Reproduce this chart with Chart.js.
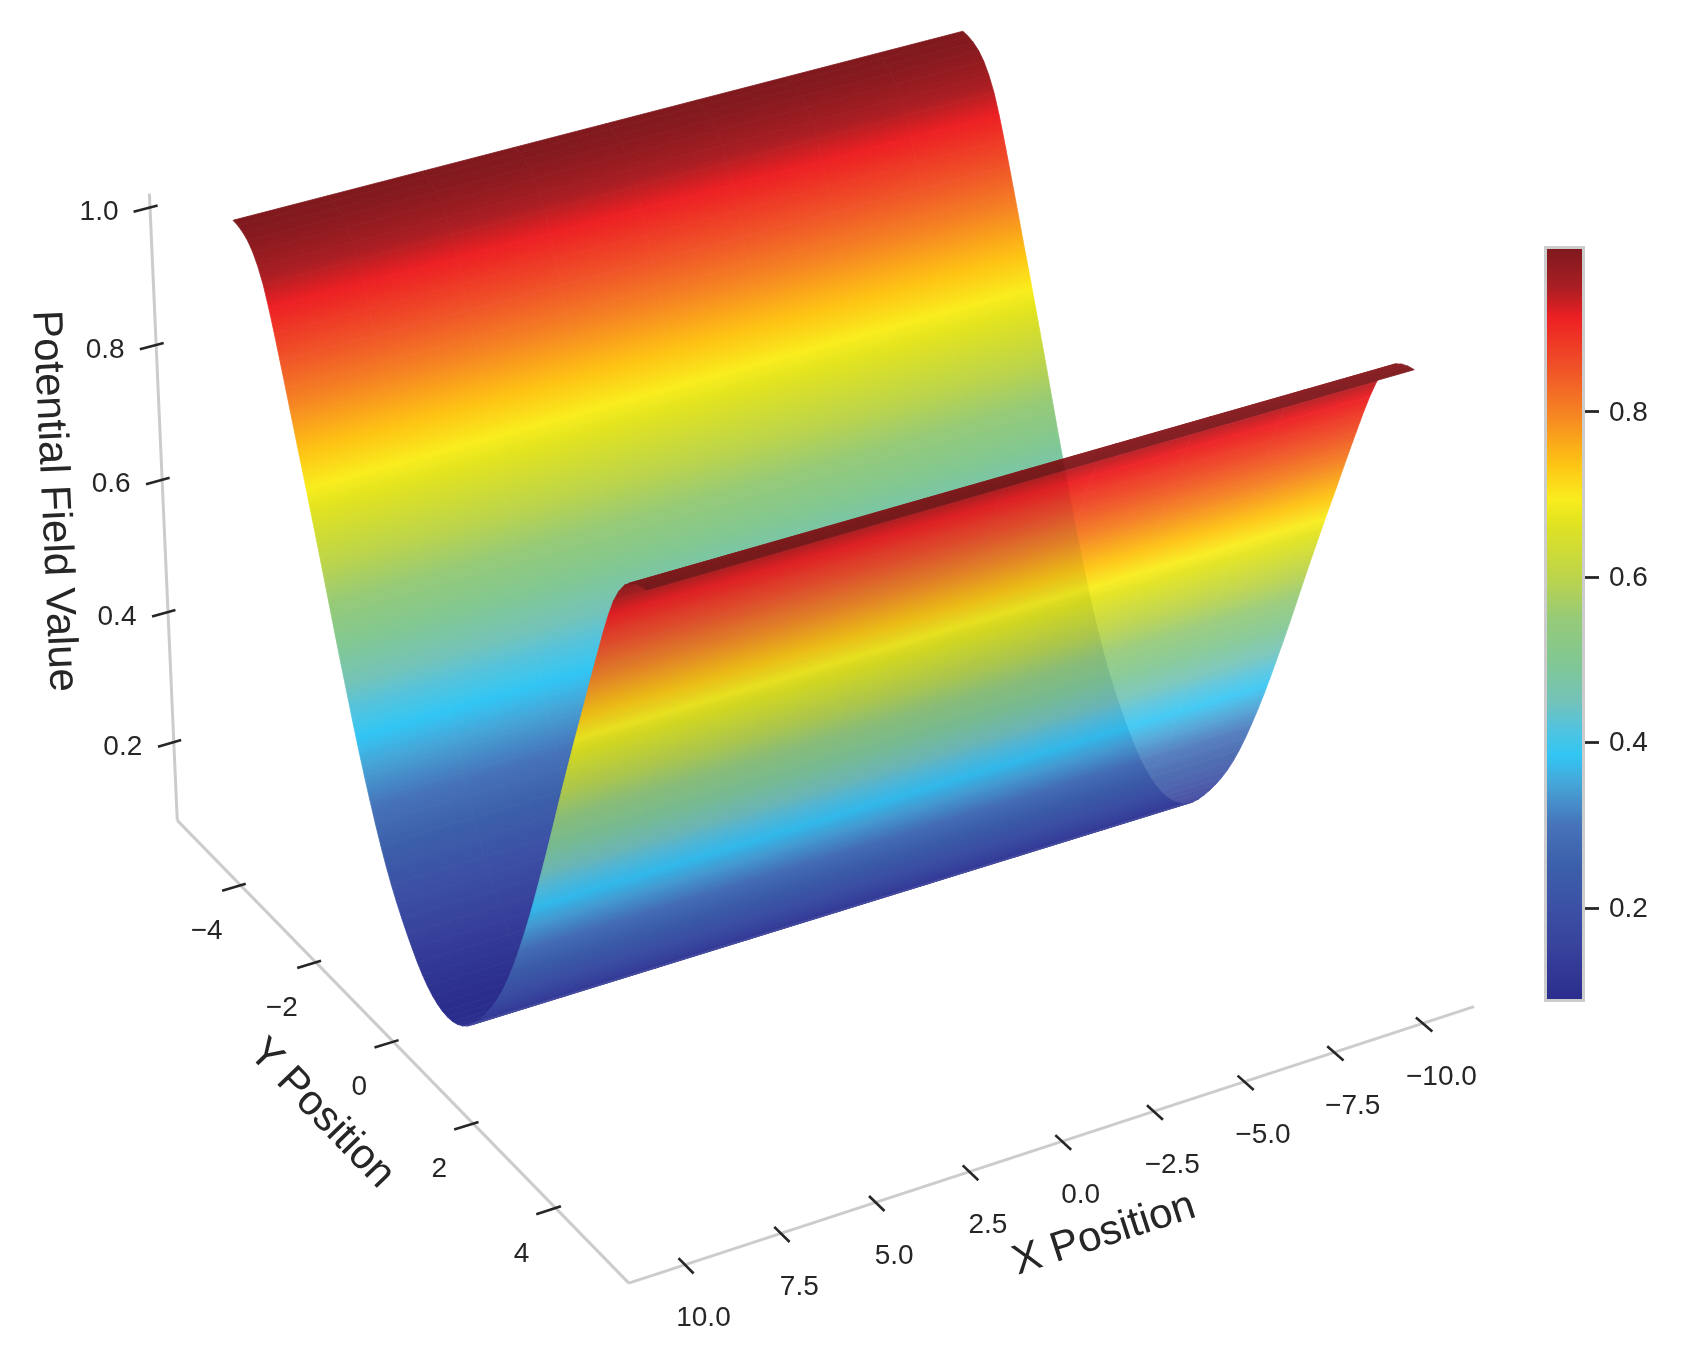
<!DOCTYPE html>
<html>
<head>
<meta charset="utf-8">
<title>Potential field surface</title>
<script src="https://cdn.jsdelivr.net/npm/chart.js@4/dist/chart.umd.min.js"></script>
<style>
  body { margin: 0; background: #fff; }
  #wrap { position: relative; width: 1702px; height: 1366px; }
  #wrap canvas { position: absolute; left: 0; top: 0; }
  #frontWall { opacity: 0.9; }
</style>
</head>
<body>
<div id="wrap">
  <canvas id="backWall" width="1702" height="1366"></canvas>
  <canvas id="frontWall" width="1702" height="1366"></canvas>
  <canvas id="colorbar" width="1702" height="1366"></canvas>
</div>
<script>
// surface columns and rows
const xPositions = [-10, -7.5, -5, -2.5, 0, 2.5, 5, 7.5, 10];
const yPositions = [
  -5, -4.875, -4.75, -4.625, -4.5, -4.375, -4.25, -4.125, -4, -3.875, -3.75, -3.625, -3.5, -3.375, -3.25, -3.125,
  -3, -2.875, -2.75, -2.625, -2.5, -2.375, -2.25, -2.125, -2, -1.875, -1.75, -1.625, -1.5, -1.375, -1.25, -1.125,
  -1, -0.875, -0.75, -0.625, -0.5, -0.375, -0.25, -0.125, 0,
  0.125, 0.25, 0.375, 0.5, 0.625, 0.75, 0.875, 1, 1.125, 1.25, 1.375, 1.5, 1.625, 1.75, 1.875,
  2, 2.125, 2.25, 2.375, 2.5, 2.625, 2.75, 2.875, 3, 3.125, 3.25, 3.375, 3.5, 3.625, 3.75, 3.875,
  4, 4.125, 4.25, 4.375, 4.5, 4.625, 4.75, 4.875, 5
];
// potential across y, it does not change along x
const potentialValues = [
  0.9970, 0.9955, 0.9920, 0.9860, 0.9760, 0.9610, 0.9410, 0.9140, 0.8830, 0.8500, 0.8165, 0.7825, 0.7480, 0.7147, 0.6806, 0.6459,
  0.6110, 0.5756, 0.5396, 0.5038, 0.4690, 0.4349, 0.4013, 0.3688, 0.3380, 0.3088, 0.2809, 0.2549, 0.2310, 0.2096, 0.1904, 0.1730,
  0.1570, 0.1421, 0.1284, 0.1166, 0.1070, 0.0996, 0.0943, 0.0911, 0.0900,
  0.0911, 0.0943, 0.0996, 0.1070, 0.1166, 0.1284, 0.1421, 0.1570, 0.1730, 0.1904, 0.2096, 0.2310, 0.2549, 0.2809, 0.3088,
  0.3380, 0.3688, 0.4013, 0.4349, 0.4690, 0.5038, 0.5396, 0.5756, 0.6110, 0.6459, 0.6806, 0.7147, 0.7480, 0.7825, 0.8165, 0.8500,
  0.8830, 0.9140, 0.9410, 0.9610, 0.9760, 0.9860, 0.9920, 0.9955, 0.9970
];

// ticks
const xTicks = [10, 7.5, 5, 2.5, 0, -2.5, -5, -7.5, -10];
const xTickLabels = ['10.0', '7.5', '5.0', '2.5', '0.0', '\u22122.5', '\u22125.0', '\u22127.5', '\u221210.0'];
const yTicks = [-4, -2, 0, 2, 4];
const yTickLabels = ['\u22124', '\u22122', '0', '2', '4'];
const zTicks = [0.2, 0.4, 0.6, 0.8, 1.0];
const zTickLabels = ['0.2', '0.4', '0.6', '0.8', '1.0'];
const colorbarTicks = [0.2, 0.4, 0.6, 0.8];

// axis limits
const xLimit = 11.45;
const yLimit = 5.73;
const zLimits = [0.078, 1.02];
const colorRange = [0.09, 0.997];

// colormap
const cmapValues = [0.09, 0.15, 0.2, 0.25, 0.3, 0.35, 0.385, 0.42, 0.45, 0.5, 0.55, 0.6, 0.67, 0.694, 0.738, 0.8, 0.85, 0.914, 0.95, 0.997];
const cmapColors = [
  [43, 45, 140], [55, 65, 155], [60, 80, 165], [60, 95, 170], [70, 115, 185], [70, 165, 215], [50, 198, 244],
  [85, 195, 220], [115, 195, 185], [130, 200, 145], [150, 202, 120], [188, 212, 75], [228, 228, 30], [249, 237, 30],
  [254, 195, 20], [245, 130, 35], [240, 85, 40], [237, 32, 36], [170, 30, 35], [128, 25, 30]
];

const FONT = '"Liberation Sans", Arial, sans-serif';
const INK = '#262626';
// rows below this index stay on the opaque layer, they hug the bottom edge
const FRONT_START = 43;

// camera, fitted against the axis ticks
const cam = { elev: 30.18, azim: 59.99, dist: 17.46, scale: 484.44, cx: 814.07, cy: 600.98, ax: 0.08734, ay: 0.17488, az: 1.6072, zMid: 0.55 };

function project(x, y, z) {
  const e = cam.elev * Math.PI / 180, a = cam.azim * Math.PI / 180;
  const u = x * cam.ax, v = y * cam.ay, w = (z - cam.zMid) * cam.az;
  const right = -Math.sin(a) * u + Math.cos(a) * v;
  const up = -Math.sin(e) * Math.cos(a) * u - Math.sin(e) * Math.sin(a) * v + Math.cos(e) * w;
  const toward = Math.cos(e) * Math.cos(a) * u + Math.cos(e) * Math.sin(a) * v + Math.sin(e) * w;
  const k = 1 / (1 - toward / cam.dist);
  return { x: cam.cx + cam.scale * right * k, y: cam.cy - cam.scale * up * k };
}

function cmapAt(v) {
  if (v <= cmapValues[0]) return cmapColors[0];
  for (let i = 1; i < cmapValues.length; i++) {
    if (v <= cmapValues[i]) {
      const t = (v - cmapValues[i - 1]) / (cmapValues[i] - cmapValues[i - 1]);
      return cmapColors[i].map((c, k) => cmapColors[i - 1][k] + (c - cmapColors[i - 1][k]) * t);
    }
  }
  return cmapColors[cmapColors.length - 1];
}

function cssColor(c) {
  return `rgb(${Math.round(c[0])},${Math.round(c[1])},${Math.round(c[2])})`;
}

// front layer is under css opacity, deepen the upper colours so reds stay saturated
function surfaceColor(v, front) {
  const c = cmapAt(v);
  if (!front) return cssColor(c);
  const deepen = Math.min(1, Math.max(0, (v - 0.35) / 0.4)) * 0.08;
  return cssColor(c.map(ch => Math.max(0, ch - deepen * (255 - ch))));
}

function toPixel(chart, p) {
  return { x: chart.scales.x.getPixelForValue(p.x), y: chart.scales.y.getPixelForValue(p.y) };
}

// gradient runs across one quad, iso lines stay parallel to the x direction
function quadGradient(chart, xa, xb, i) {
  const front = i >= FRONT_START;
  const z0 = potentialValues[i], z1 = potentialValues[i + 1];
  const a = toPixel(chart, project(xa, yPositions[i], z0));
  const b = toPixel(chart, project(xb, yPositions[i], z0));
  const m = (xa + xb) / 2;
  const p0 = toPixel(chart, project(m, yPositions[i], z0));
  const p1 = toPixel(chart, project(m, yPositions[i + 1], z1));
  const flat = surfaceColor((z0 + z1) / 2, front);
  // options get resolved once before the layout is done
  if (!Number.isFinite(a.x + a.y + b.x + b.y)) return flat;
  const len = Math.hypot(b.x - a.x, b.y - a.y);
  if (len < 0.01) return flat;
  const nx = -(b.y - a.y) / len, ny = (b.x - a.x) / len;
  const d = (p1.x - p0.x) * nx + (p1.y - p0.y) * ny;
  if (Math.abs(d) < 0.01) return flat;
  const g = chart.ctx.createLinearGradient(p0.x, p0.y, p0.x + nx * d, p0.y + ny * d);
  g.addColorStop(0, surfaceColor(z0, front));
  cmapValues.forEach(v => {
    const t = (v - z0) / (z1 - z0);
    if (t > 0 && t < 1) g.addColorStop(t, surfaceColor(v, front));
  });
  g.addColorStop(1, surfaceColor(z1, front));
  return g;
}

function wallDatasets(from, to) {
  const sets = [];
  for (let i = from; i < to; i++) {
    for (let j = 0; j < xPositions.length - 1; j++) {
      const xa = xPositions[j], xb = xPositions[j + 1];
      const ya = yPositions[i], yb = yPositions[i + 1];
      const za = potentialValues[i], zb = potentialValues[i + 1];
      const paint = c => quadGradient(c.chart, xa, xb, i);
      sets.push({
        data: [project(xa, ya, za), project(xb, ya, za), project(xb, yb, zb), project(xa, yb, zb), project(xa, ya, za)],
        fill: 'shape',
        backgroundColor: paint,
        borderColor: paint,
        borderWidth: 0.8,
        pointRadius: 0,
        tension: 0
      });
    }
  }
  // chart.js paints the first dataset last
  return sets.reverse();
}

function lineSet(a, b, color, width) {
  return { data: [a, b], borderColor: color, borderWidth: width, pointRadius: 0, tension: 0, fill: false };
}

function axisDatasets() {
  const gray = '#cccccc';
  const sets = [];
  xTicks.forEach(v => sets.push(lineSet(project(v, yLimit + 0.2, zLimits[0]), project(v, yLimit - 0.15, zLimits[0]), INK, 2.6)));
  yTicks.forEach(v => sets.push(lineSet(project(xLimit + 0.5, v, zLimits[0]), project(xLimit - 0.14, v, zLimits[0]), INK, 2.6)));
  zTicks.forEach(v => sets.push(lineSet(project(xLimit + 0.43, -yLimit, v), project(xLimit - 0.2, -yLimit, v), INK, 2.6)));
  sets.push(lineSet(project(xLimit, yLimit, zLimits[0]), project(-xLimit, yLimit, zLimits[0]), gray, 3));
  sets.push(lineSet(project(xLimit, -yLimit, zLimits[0]), project(xLimit, yLimit, zLimits[0]), gray, 3));
  sets.push(lineSet(project(xLimit, -yLimit, zLimits[0]), project(xLimit, -yLimit, zLimits[1]), gray, 3));
  return sets;
}

const axisText = {
  id: 'axisText',
  afterDatasetsDraw(chart) {
    const ctx = chart.ctx;
    ctx.save();
    ctx.fillStyle = INK;
    ctx.textAlign = 'center';
    ctx.textBaseline = 'middle';
    ctx.font = `28px ${FONT}`;
    const put = (p, dx, dy, s) => {
      const q = toPixel(chart, p);
      ctx.fillText(s, q.x + dx, q.y + dy);
    };
    xTicks.forEach((v, i) => put(project(v, yLimit, zLimits[0]), 18.5, 54, xTickLabels[i]));
    yTicks.forEach((v, i) => put(project(xLimit, v, zLimits[0]), -34, 46, yTickLabels[i]));
    zTicks.forEach((v, i) => put(project(xLimit, -yLimit, v), -51, 5, zTickLabels[i]));

    ctx.font = `42px ${FONT}`;
    const turned = (p, dx, dy, deg, s) => {
      const q = toPixel(chart, p);
      ctx.save();
      ctx.translate(q.x + dx, q.y + dy);
      ctx.rotate(deg * Math.PI / 180);
      ctx.fillText(s, 0, 0);
      ctx.restore();
    };
    turned(project(0, yLimit, zLimits[0]), 42, 93, -18, 'X Position');
    turned(project(xLimit, 0, zLimits[0]), -72, 72, 46, 'Y Position');
    turned(project(xLimit, -yLimit, 0.55), -110, -12, 87.4, 'Potential Field Value');
    ctx.restore();
  }
};

function viewOptions() {
  return {
    responsive: false,
    animation: false,
    events: [],
    layout: { padding: 0 },
    plugins: { legend: { display: false }, tooltip: { enabled: false } },
    scales: {
      x: { type: 'linear', min: 0, max: 1702, display: false },
      y: { type: 'linear', min: 0, max: 1366, reverse: true, display: false }
    }
  };
}

new Chart(document.getElementById('backWall'), {
  type: 'line',
  data: { datasets: [...wallDatasets(0, FRONT_START), ...axisDatasets()] },
  options: viewOptions(),
  plugins: [axisText]
});

new Chart(document.getElementById('frontWall'), {
  type: 'line',
  data: { datasets: wallDatasets(FRONT_START, 80) },
  options: viewOptions()
});

const colorbarFrame = {
  id: 'colorbarFrame',
  afterDraw(chart) {
    const a = chart.chartArea, ctx = chart.ctx;
    ctx.save();
    ctx.strokeStyle = '#cccccc';
    ctx.lineWidth = 3;
    ctx.strokeRect(a.left - 1.5, a.top - 1.5, a.right - a.left + 3, a.bottom - a.top + 3);
    ctx.restore();
  }
};

new Chart(document.getElementById('colorbar'), {
  type: 'bar',
  data: {
    labels: [''],
    datasets: [{
      data: [colorRange],
      barPercentage: 1,
      categoryPercentage: 1,
      backgroundColor(c) {
        const s = c.chart.scales.y;
        const y0 = s.getPixelForValue(colorRange[0]), y1 = s.getPixelForValue(colorRange[1]);
        if (!Number.isFinite(y0 + y1)) return '#888888';
        const g = c.chart.ctx.createLinearGradient(0, y0, 0, y1);
        cmapValues.forEach((v, i) => {
          const t = (v - colorRange[0]) / (colorRange[1] - colorRange[0]);
          g.addColorStop(Math.min(1, Math.max(0, t)), cssColor(cmapColors[i]));
        });
        return g;
      }
    }]
  },
  options: {
    responsive: false,
    animation: false,
    events: [],
    layout: { padding: { left: 1547, top: 249, bottom: 367, right: 0 } },
    plugins: { legend: { display: false }, tooltip: { enabled: false } },
    scales: {
      x: { display: false },
      y: {
        position: 'right',
        min: colorRange[0],
        max: colorRange[1],
        afterBuildTicks(scale) { scale.ticks = colorbarTicks.map(v => ({ value: v })); },
        afterFit(scale) { scale.width = 120; },
        border: { display: false },
        grid: { drawOnChartArea: false, tickLength: 17, tickWidth: 2.8, tickColor: INK },
        ticks: { color: INK, padding: 10, labelOffset: 1, font: { family: FONT, size: 28 }, callback: v => v.toFixed(1) }
      }
    }
  },
  plugins: [colorbarFrame]
});
</script>
</body>
</html>
